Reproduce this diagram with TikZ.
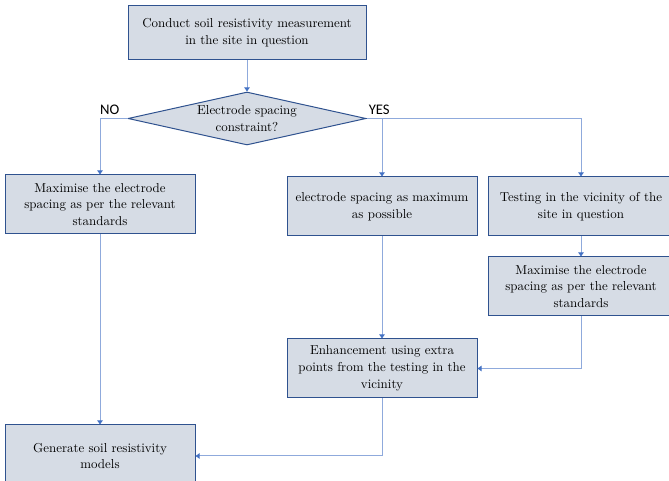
\documentclass[tikz,border=0pt]{standalone}
\usepackage{fontspec}
\newfontfamily\labelfont{Carlito}
\usetikzlibrary{positioning,arrows.meta,shapes.geometric}
\usepackage{xcolor}
\definecolor{BoxBlue}{RGB}{47,82,143}
\definecolor{BoxFill}{RGB}{214,220,229}
\definecolor{LineBlue}{RGB}{143,170,220}
\definecolor{TipBlue}{RGB}{68,114,196}

\begin{document}
\begin{tikzpicture}[
x=0.75pt,y=-0.75pt,
box/.style={rectangle,draw=BoxBlue,fill=BoxFill,line width=0.75pt,
minimum width=142.5pt,minimum height=44.25pt,inner sep=2pt,align=center,
font=\fontsize{9.7}{12.5}\selectfont},
decision/.style={diamond,aspect=4.5,draw=BoxBlue,fill=BoxFill,line width=0.75pt,
minimum width=178.5pt,minimum height=39.75pt,inner sep=0pt,align=center,
font=\fontsize{9.7}{12.5}\selectfont},
yesno/.style={inner sep=1pt,font=\labelfont\fontsize{11}{13}\selectfont},
arrow/.style={-{Triangle[length=3pt,width=4pt,color=TipBlue]},line width=0.75pt,draw=LineBlue}
]
\useasboundingbox (0,0) rectangle (669,481);
\node[box,minimum width=178.5pt,minimum height=40.5pt] (meas) at (247,33) {Conduct soil resistivity measurement\\in the site in question};
\node[decision,below=23.25pt of meas] (dec) {Electrode spacing\\constraint?};
\node[yesno,above left=1.5pt and 5pt of dec.west] (no) {NO};
\node[yesno,above right=1.5pt and 0.5pt of dec.east] (yes) {YES};
\node[box] (maxL) at (100,204.5) {Maximise the electrode\\spacing as per the relevant\\standards};
\node[box] (wide) at (382,206.5) {electrode spacing as maximum\\as possible};
\node[box,minimum width=139.5pt,right=7.5pt of wide] (test) {Testing in the vicinity of the\\site in question};
\node[box,minimum width=139.5pt,below=15pt of test] (maxR) {Maximise the electrode\\spacing as per the relevant\\standards};
\node[box,below=76.5pt of wide] (enh) {Enhancement using extra\\points from the testing in the\\vicinity};
\node[box,minimum height=46.5pt,below=142.5pt of maxL] (models) {Generate soil resistivity\\models};
\draw[arrow] (meas) -- (dec);
\draw[arrow] (dec.west) -| (maxL.north);
\draw[arrow] (dec.east) -| (test.north);
\draw[arrow] (dec.east -| wide.north) -- (wide.north);
\draw[arrow] (test) -- (maxR); \draw[arrow] (wide) -- (enh); \draw[arrow] (maxL) -- (models);
\draw[arrow] (maxR.south) |- (enh.east);
\draw[arrow] (enh.south) |- (models.east);
\end{tikzpicture}
\end{document}
